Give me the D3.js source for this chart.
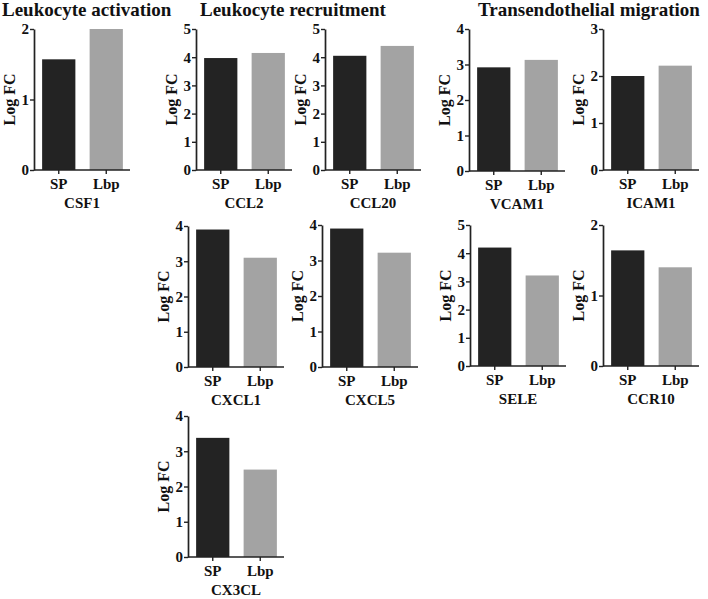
<!DOCTYPE html>
<html><head><meta charset="utf-8">
<script src="https://cdn.jsdelivr.net/npm/d3@7/dist/d3.min.js"></script>
<style>body{margin:0;background:#fff}svg{display:block}text{font-family:"Liberation Serif","Times New Roman",serif;font-weight:bold;fill:#111}</style>
</head><body><svg id="c" width="708" height="599"></svg>
<script>
const groups = ["SP", "Lbp"];
const genes = ["CSF1","CCL2","CCL20","VCAM1","ICAM1","CXCL1","CXCL5","SELE","CCR10","CX3CL"];
const spValues  = [1.57, 3.97, 4.05, 2.92, 2.00, 3.90, 3.90, 4.20, 1.64, 3.38];
const lbpValues = [2.00, 4.15, 4.40, 3.13, 2.22, 3.10, 3.22, 3.21, 1.40, 2.48];
const yMaxes    = [2, 5, 5, 4, 3, 4, 4, 5, 2, 4];
const titles = ["Leukocyte activation", "Leukocyte recruitment", "Transendothelial migration"];
const yLabel = "Log FC";
const colors = {SP: "#232323", Lbp: "#a3a3a3"};

// layout (positions of each small panel)
const layout = [
  {x:34,  top:29,  bottom:170},
  {x:196, top:29,  bottom:170},
  {x:325, top:29,  bottom:170},
  {x:469, top:29,  bottom:171},
  {x:603, top:29,  bottom:170},
  {x:188, top:226, bottom:367},
  {x:322, top:225, bottom:367},
  {x:470, top:225, bottom:366},
  {x:603, top:225, bottom:366},
  {x:188, top:416, bottom:557}
];
const titlePos = [{x:2,y:16},{x:200,y:16},{x:478,y:16}];

const svg = d3.select("#c");
titles.forEach((t,i)=>{
  svg.append("text").attr("x",titlePos[i].x).attr("y",titlePos[i].y)
    .attr("font-size",19).text(t);
});

genes.forEach((g,i)=>{
  const L = layout[i];
  const gp = svg.append("g").attr("transform",`translate(${L.x},0)`);
  const x = d3.scaleBand().domain(groups).range([1,96]).paddingInner(0.3).paddingOuter(0.15);
  const y = d3.scaleLinear().domain([0,yMaxes[i]]).range([L.bottom,L.top]);
  const vals = [spValues[i], lbpValues[i]];
  gp.selectAll("rect").data(groups).join("rect")
    .attr("x",d=>x(d)).attr("width",x.bandwidth())
    .attr("y",(d,j)=>y(vals[j])).attr("height",(d,j)=>L.bottom-y(vals[j]))
    .attr("fill",d=>colors[d]);
  // y axis
  const ya = gp.append("g").call(d3.axisLeft(y).ticks(yMaxes[i]).tickFormat(d3.format("d")).tickSize(4).tickSizeOuter(0));
  ya.select(".domain").attr("stroke","#222").attr("stroke-width",1.7);
  ya.selectAll(".tick line").attr("stroke","#222").attr("stroke-width",1.4);
  ya.selectAll(".tick text").attr("font-size",15).attr("x",-5).attr("fill","#111")
    .style("font-family","Liberation Serif").style("font-weight","bold");
  // x axis
  const xa = gp.append("g").attr("transform",`translate(0,${L.bottom})`)
    .call(d3.axisBottom(x).tickSize(4).tickSizeOuter(0));
  xa.select(".domain").attr("d","M0,0H96").attr("stroke","#222").attr("stroke-width",1.7);
  xa.selectAll(".tick line").attr("stroke","#222").attr("stroke-width",1.4);
  xa.selectAll(".tick text").attr("font-size",15).attr("y",8).attr("fill","#111")
    .style("font-family","Liberation Serif").style("font-weight","bold");
  // gene label
  gp.append("text").attr("x",48).attr("y",L.bottom+38).attr("text-anchor","middle")
    .attr("font-size",15).text(g);
  // y label
  gp.append("text").attr("transform",`translate(-19,${(L.top+L.bottom)/2}) rotate(-90)`)
    .attr("text-anchor","middle").attr("font-size",16).text(yLabel);
});
</script></body></html>
